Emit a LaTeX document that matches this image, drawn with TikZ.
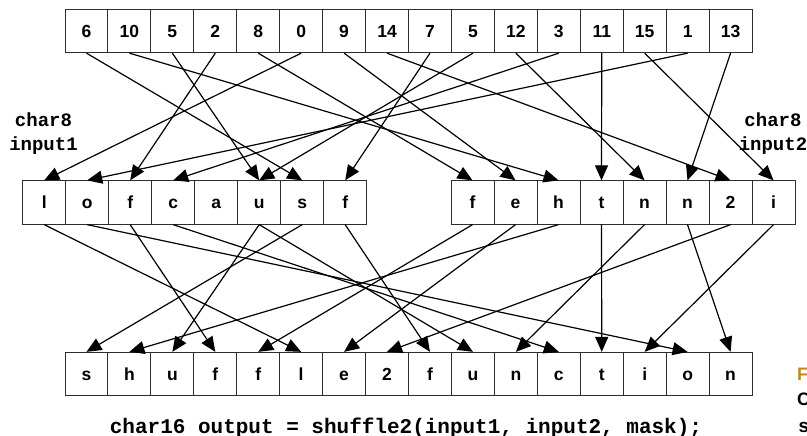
\documentclass[tikz,border=0pt]{standalone}
\usepackage{fontspec}
\setmainfont{Liberation Sans}
\setmonofont{Liberation Mono}
\usetikzlibrary{arrows.meta}
\definecolor{boxline}{RGB}{45,45,45}
\definecolor{figgold}{RGB}{190,140,25}
\begin{document}
\begin{tikzpicture}[x=1pt,y=-1pt,
  cell/.style={draw=boxline,line width=0.9pt,minimum width=42.94pt,minimum height=43.4pt,
    inner sep=0pt,text height=12.3pt,text depth=0pt,
    font=\bfseries\fontsize{17.5}{17.5}\selectfont,fill=white},
  mcell/.style={cell,minimum width=43pt},
  arr/.style={line width=1.2pt,-{Triangle[length=15pt,width=13pt]}},
  lbl/.style={font=\ttfamily\bfseries\fontsize{19}{22}\selectfont,anchor=base,inner sep=0pt},
  code/.style={font=\ttfamily\bfseries\fontsize{21}{24}\selectfont,anchor=base,inner sep=0pt},
  capt/.style={font=\bfseries\fontsize{18}{20}\selectfont,anchor=base west,inner sep=0pt}]
\useasboundingbox[fill=white] (0,0) rectangle (807,436);
% top row (mask)
\foreach \v [count=\i from 0] in {6,10,5,2,8,0,9,14,7,5,12,3,11,15,1,13}
  \node[cell] (t\i) at ({65+42.94*(\i+0.5)},31) {\v};
% middle rows (inputs)
\foreach \v [count=\i from 0] in {l,o,f,c,a,u,s,f}
  \node[mcell] (m\i) at ({22.7+43*(\i+0.5)},202.5) {\v};
\foreach \v [count=\i from 8] in {f,e,h,t,n,n,2,i}
  \node[mcell] (m\i) at ({451+43*(\i-8+0.5)},202.5) {\v};
% bottom row (output)
\foreach \v [count=\i from 0] in {s,h,u,f,f,l,e,2,f,u,n,c,t,i,o,n}
  \node[cell] (b\i) at ({65+42.94*(\i+0.5)},374) {\v};
% connectors
\foreach \s/\d in {0/6,1/10,2/5,3/2,4/8,5/0,6/9,7/14,8/7,9/5,10/12,11/3,12/11,13/15,14/1,15/13}{
  \draw[arr] (t\s.south) -- (m\d.north);
  \draw[arr] (m\d.south) -- (b\s.north);
}
% labels
\node[lbl] (l1a) at (43.5,127) {char8};
\node[lbl] (l1b) at (43.5,150) {input1};
\node[lbl] (l2a) at (773,127) {char8};
\node[lbl] (l2b) at (773,150) {input2};
\node[code] (cd) at (406,433) {char16 output = shuffle2(input1, input2, mask);};
% cut-off caption on the right
\node[capt,text=figgold] (cf) at (797,380) {F};
\node[capt] (cc) at (797,405) {C};
\node[capt,font=\ttfamily\bfseries\fontsize{19}{20}\selectfont] (cs) at (798,432) {s};
\end{tikzpicture}
\end{document}
